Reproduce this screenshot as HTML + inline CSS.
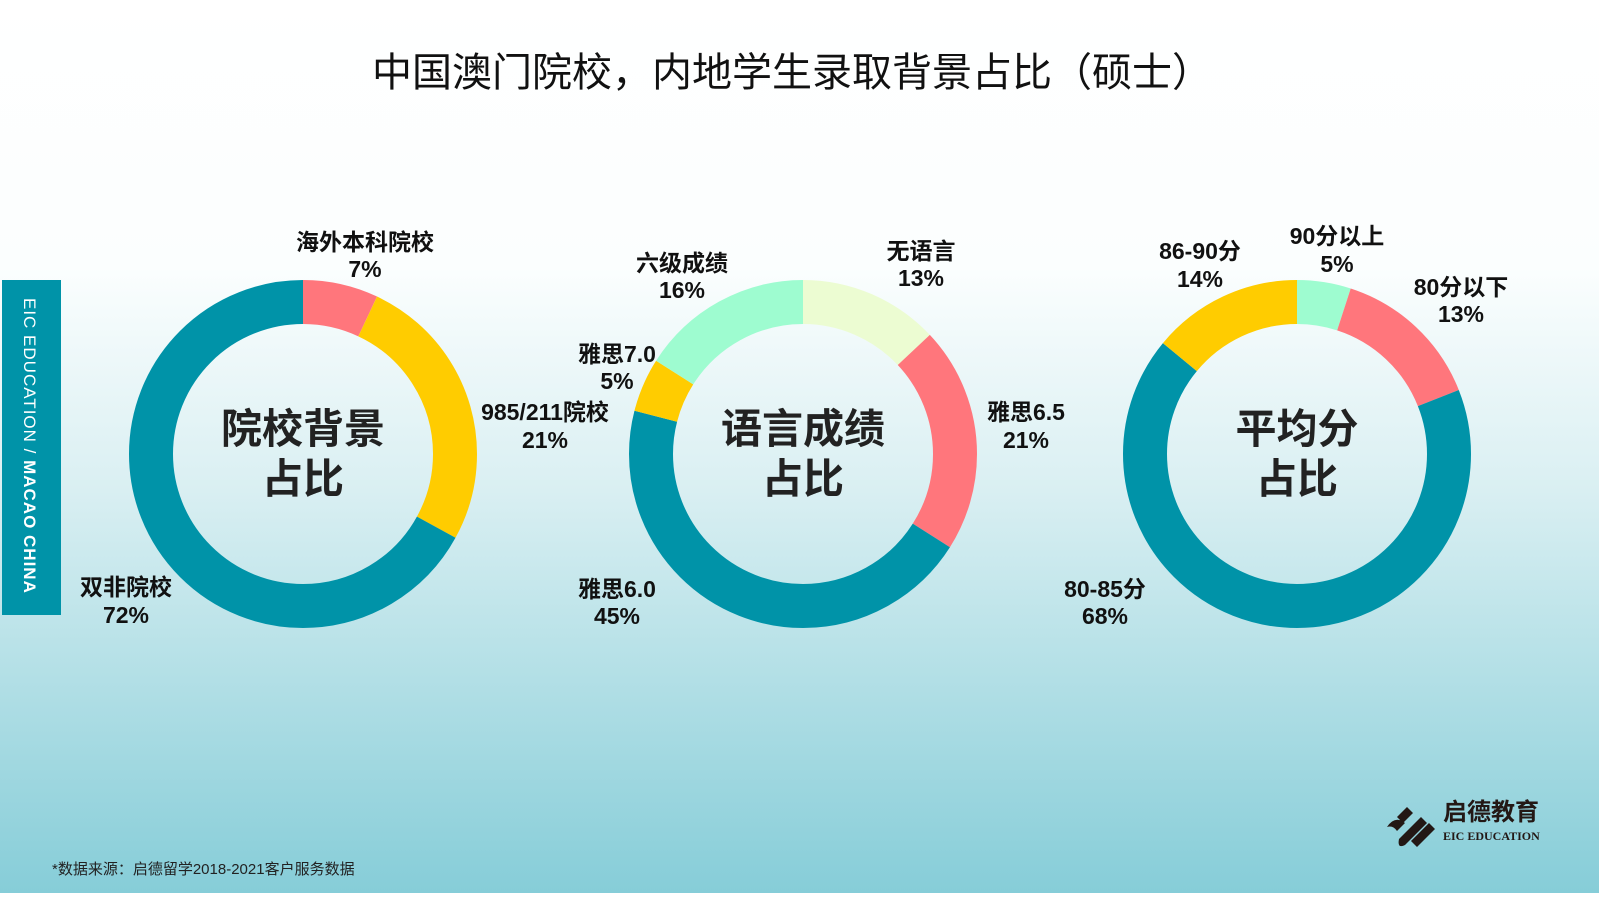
<!DOCTYPE html>
<html><head><meta charset="utf-8"><style>
html,body{margin:0;padding:0}
body{width:1599px;height:893px;overflow:hidden;font-family:"Liberation Sans","Noto Sans CJK SC",sans-serif}
</style></head><body>
<svg width="1599" height="893" viewBox="0 0 1599 893" xmlns="http://www.w3.org/2000/svg" font-family="Liberation Sans, Noto Sans CJK SC, sans-serif">
<defs>
<linearGradient id="bg" x1="0" y1="0" x2="0" y2="1">
<stop offset="0" stop-color="#ffffff"/>
<stop offset="0.3" stop-color="#fbfefe"/>
<stop offset="0.55" stop-color="#d9eff2"/>
<stop offset="1" stop-color="#86cdd8"/>
</linearGradient>
</defs>
<rect width="1599" height="893" fill="url(#bg)"/>
<text x="792" y="86" font-size="40" text-anchor="middle" fill="#111">中国澳门院校，内地学生录取背景占比（硕士）</text>

<rect x="2" y="280" width="59" height="335" fill="#0093a8"/>
<text transform="translate(24,298) rotate(90)" font-size="17" fill="#fff" letter-spacing="1">EIC EDUCATION  /  <tspan font-weight="bold">MACAO CHINA</tspan></text>

<g fill="none" stroke-width="44">
<g transform="rotate(-90 303 454)">
<circle cx="303" cy="454" r="152" pathLength="100" stroke="#ff767c" stroke-dasharray="7 93" stroke-dashoffset="0"/>
<circle cx="303" cy="454" r="152" pathLength="100" stroke="#ffcc00" stroke-dasharray="26 74" stroke-dashoffset="-7"/>
<circle cx="303" cy="454" r="152" pathLength="100" stroke="#0093a8" stroke-dasharray="67 33" stroke-dashoffset="-33"/>
</g>
<g transform="rotate(-90 803 454)">
<circle cx="803" cy="454" r="152" pathLength="100" stroke="#ecfcd2" stroke-dasharray="13 87" stroke-dashoffset="0"/>
<circle cx="803" cy="454" r="152" pathLength="100" stroke="#ff767c" stroke-dasharray="21 79" stroke-dashoffset="-13"/>
<circle cx="803" cy="454" r="152" pathLength="100" stroke="#0093a8" stroke-dasharray="45 55" stroke-dashoffset="-34"/>
<circle cx="803" cy="454" r="152" pathLength="100" stroke="#ffcc00" stroke-dasharray="5 95" stroke-dashoffset="-79"/>
<circle cx="803" cy="454" r="152" pathLength="100" stroke="#9efcd0" stroke-dasharray="16 84" stroke-dashoffset="-84"/>
</g>
<g transform="rotate(-90 1297 454)">
<circle cx="1297" cy="454" r="152" pathLength="100" stroke="#9efcd0" stroke-dasharray="5 95" stroke-dashoffset="0"/>
<circle cx="1297" cy="454" r="152" pathLength="100" stroke="#ff767c" stroke-dasharray="14 86" stroke-dashoffset="-5"/>
<circle cx="1297" cy="454" r="152" pathLength="100" stroke="#0093a8" stroke-dasharray="67 33" stroke-dashoffset="-19"/>
<circle cx="1297" cy="454" r="152" pathLength="100" stroke="#ffcc00" stroke-dasharray="14 86" stroke-dashoffset="-86"/>
</g>
</g>

<g font-size="41" font-weight="bold" fill="#222" text-anchor="middle">
<text x="303" y="443">院校背景</text><text x="303" y="493">占比</text>
<text x="803" y="443">语言成绩</text><text x="803" y="493">占比</text>
<text x="1297" y="443">平均分</text><text x="1297" y="493">占比</text>
</g>

<g font-size="23" font-weight="bold" fill="#111" text-anchor="middle">
<text x="365" y="250">海外本科院校</text><text x="365" y="277">7%</text>
<text x="545" y="420">985/211院校</text><text x="545" y="448">21%</text>
<text x="126" y="595">双非院校</text><text x="126" y="623">72%</text>
<text x="682" y="271">六级成绩</text><text x="682" y="298">16%</text>
<text x="921" y="259">无语言</text><text x="921" y="286">13%</text>
<text x="617" y="362">雅思7.0</text><text x="617" y="389">5%</text>
<text x="1026" y="420">雅思6.5</text><text x="1026" y="448">21%</text>
<text x="617" y="597">雅思6.0</text><text x="617" y="624">45%</text>
<text x="1200" y="259">86-90分</text><text x="1200" y="287">14%</text>
<text x="1337" y="244">90分以上</text><text x="1337" y="272">5%</text>
<text x="1461" y="295">80分以下</text><text x="1461" y="322">13%</text>
<text x="1105" y="597">80-85分</text><text x="1105" y="624">68%</text>
</g>

<text x="52" y="874" font-size="15" fill="#222">*数据来源：启德留学2018-2021客户服务数据</text>

<g transform="translate(1385,795)" fill="#231815">
<path d="M12 22 l10 -10 l6 6 l-10 10z M2 32 q8 -12 18 -4 l-8 8 q-4 -6 -10 -4z M14 44 l22 -22 l6 6 l-22 22 q-8 4 -6 -6z M26 46 l18 -18 l6 6 l-18 18z"/>
<text x="58" y="25" font-size="24" font-weight="bold">启德教育</text>
<text x="58" y="45" font-size="12" font-family="Liberation Serif, serif" font-weight="bold">EIC EDUCATION</text>
</g>
</svg>
</body></html>
